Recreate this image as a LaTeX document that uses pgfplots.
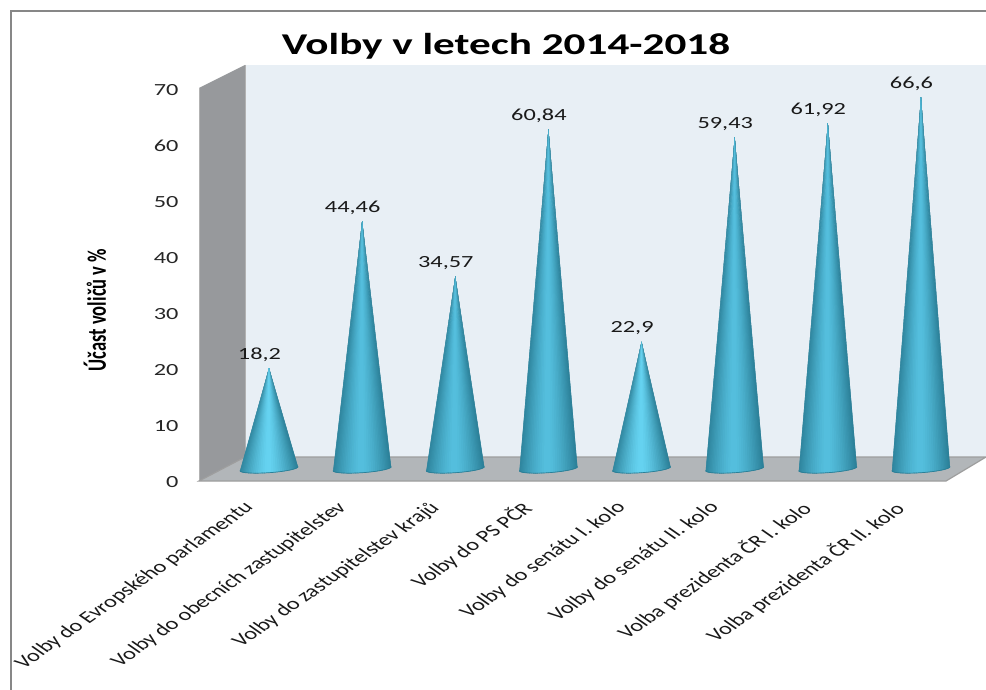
\documentclass[border=0pt]{standalone}
\usepackage{pgfplots}
\usepackage{fontspec}
\usepackage{graphicx}
\pgfplotsset{compat=1.18}
\setmainfont{Carlito}
\newcommand{\sx}[1]{\scalebox{1.43}[1]{#1}}
\newcommand{\xl}[1]{\scalebox{1.43}[1]{\rotatebox{45}{#1}}}
\definecolor{cnl}{HTML}{55C0DF}
\definecolor{cnb}{HTML}{66D4F2}
\definecolor{cnd}{HTML}{2B7F97}
\definecolor{backw}{HTML}{E8EFF5}
\definecolor{leftw}{HTML}{97999C}
\definecolor{floorw}{HTML}{B2B6B9}
% base point number n of a cone: \bx, \by
\newcommand{\basept}[3]{%
  \pgfmathsetmacro\uu{-cos((#2)*4.5)}%
  \pgfmathsetmacro#3{#1+0.3114*\uu}%
  \pgfmathsetmacro\yy{(1.3-4*sin((#2)*4.5)+2*\uu)/5.6}%
}
\newcommand{\cone}[3]{%
 % slices are painted from both sides towards the centre, each overlapping the next
 \foreach \i/\p/\q/\r in {0/0/1/2,1/1/2/3,2/2/3/4,3/3/4/5,4/4/5/6,5/5/6/7,6/6/7/8,7/7/8/9,8/8/9/10,9/9/10/11,
   10/10/11/12,11/11/12/13,12/12/13/14,13/13/14/15,14/14/15/16,15/15/16/17,16/16/17/18,17/17/18/19,18/18/19/20,19/19/20/21,
   39/40/39/38,38/39/38/37,37/38/37/36,36/37/36/35,35/36/35/34,34/35/34/33,33/34/33/32,32/33/32/31,31/32/31/30,30/31/30/29,
   29/30/29/28,28/29/28/27,27/28/27/26,26/27/26/25,25/26/25/24,24/25/24/23,23/24/23/22,22/23/22/21,21/22/21/20,20/21/20/19}{%
  \basept{#1}{\p}{\xA}\let\yA\yy
  \basept{#1}{\q}{\xB}\let\yB\yy
  \basept{#1}{\r}{\xC}\let\yC\yy
  \pgfmathsetmacro\cT{100*(1-(abs(-cos((\i+0.5)*4.5)+0.03)/1.03)^1.4)}%
  \edef\cmd{\noexpand\addplot[forget plot,draw=none,fill=#3!\cT!cnd] coordinates {(#1,#2)(\xA,\yA)(\xB,\yB)(\xC,\yC)} -- cycle;}\cmd
 }%
 \foreach \i [evaluate=\i as \j using int(\i+1)] in {0,...,39}{%
  \basept{#1}{\i}{\xA}\let\yA\yy
  \basept{#1}{\j}{\xB}\let\yB\yy
  \edef\cmd{\noexpand\addplot[forget plot,draw=cnd,line width=.7pt,line cap=round] coordinates {(\xA,\yA)(\xB,\yB)};}\cmd
 }}
\begin{document}
\begin{tikzpicture}
\begin{scope}[x=1pt,y=-1pt]
\useasboundingbox (0,0) rectangle (986,690);
\draw[draw=black!47,line width=2pt] (11,690) -- (11,11) -- (986,11);
\fill[backw] (245,65) -- (986,65) -- (986,457) -- (245,457) -- cycle;
\fill[leftw] (199,88) -- (245,65) -- (245,457) -- (199,481) -- cycle;
\draw[black!30,line width=1pt] (199,481) -- (199,88);
\fill[floorw] (199,481) -- (245,457) -- (986,457) -- (946,481) -- cycle;
\draw[black!38,line width=1.2pt] (245,457) -- (986,457) -- (946,481) -- (199,481) -- cycle;
\draw[black!30,line width=1pt] (245,65) -- (245,457);
\node[font=\fontsize{30.2}{36}\selectfont\bfseries,inner sep=0pt] at (506,46) {\sx{Volby v letech 2014-2018}};
\node[font=\fontsize{18.5}{22}\selectfont\bfseries,inner sep=0pt] at (95,310) {\sx{\rotatebox{90}{Účast voličů v \%}}};
\end{scope}
% value axis with tick labels, on the front edge of the 3-D box
\begin{axis}[
  at={(199pt,-480pt)},anchor=south west,scale only axis,
  width=746pt,height=392pt,clip=false,
  xmin=0.2484,xmax=8.258,ymin=0,ymax=70,
  axis line style={draw=none},
  major tick length=0pt,
  ytick={0,10,...,70},
  yticklabel={\sx{\pgfmathprintnumber[assume math mode=true]{\tick}}},
  yticklabel style={font=\fontsize{17}{20}\selectfont,text=black!85,xshift=-17pt,yshift=-2pt},
  xtick={1,...,8},
  xticklabels={
    {\xl{Volby do Evropského parlamentu}},
    {\xl{Volby do obecních zastupitelstev}},
    {\xl{Volby do zastupitelstev krajů}},
    {\xl{Volby do PS PČR}},
    {\xl{Volby do senátu I. kolo}},
    {\xl{Volby do senátu II. kolo}},
    {\xl{Volba prezidenta ČR I. kolo}},
    {\xl{Volba prezidenta ČR II. kolo}}},
  xticklabel style={font=\fontsize{17}{20}\selectfont,text=black!90,anchor=north east,inner sep=0pt,xshift=-12pt,yshift=-20pt},
]
\addplot[draw=none,forget plot] coordinates {(1,0)};
\end{axis}
% cones, standing on the middle of the floor
\begin{axis}[
  at={(199pt,-470pt)},anchor=south west,scale only axis,
  width=746pt,height=392pt,clip=false,
  xmin=0.2484,xmax=8.258,ymin=0,ymax=70,
  hide axis,
]
\cone{1}{18.2}{cnb}
\cone{2}{44.46}{cnl}
\cone{3}{34.57}{cnl}
\cone{4}{60.84}{cnl}
\cone{5}{22.9}{cnb}
\cone{6}{59.43}{cnl}
\cone{7}{61.92}{cnl}
\cone{8}{66.6}{cnl}
\addplot[draw=none,forget plot,point meta=explicit symbolic,
  nodes near coords={\sx{\pgfplotspointmeta}},
  nodes near coords style={font=\fontsize{17}{20}\selectfont,text=black!90,anchor=base,yshift=9pt,xshift=-9.5pt,inner sep=0pt}]
 table[x=x,y=y,meta=l]{
 x y l
 1 18.2 18,2
 2 44.46 44,46
 3 34.57 34,57
 4 60.84 60,84
 5 22.9 22,9
 6 59.43 59,43
 7 61.92 61,92
 8 66.6 66,6
};
\end{axis}
\end{tikzpicture}
\end{document}
